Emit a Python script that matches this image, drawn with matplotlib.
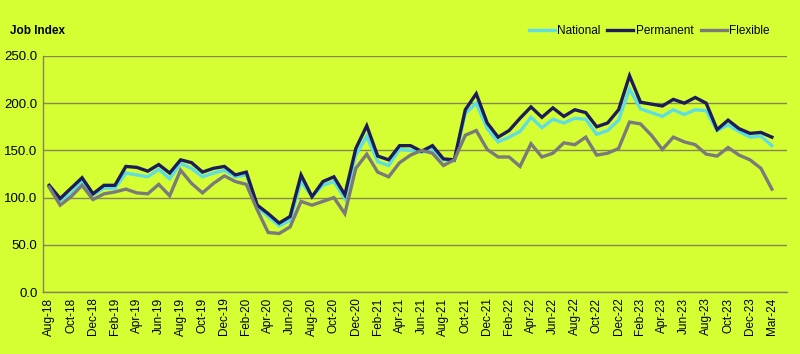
import numpy as np
import pandas as pd
import matplotlib
matplotlib.use("Agg")
from matplotlib import pyplot as plt

plt.rcParams['font.family'] = ['Liberation Sans', 'DejaVu Sans']

# DATA (monthly job index, Aug-18 .. Jan-24, then Mar-24)
months = [d.strftime("%b-%y") for d in pd.date_range("2018-08-01", "2024-01-01", freq="MS")]
months.append("Mar-24")

national = [111, 97, 104, 118, 103, 110, 110, 126, 124, 122, 130, 120,
            136, 131, 122, 126, 129, 122, 124, 90, 80, 70, 76, 117,
            101, 113, 117, 99, 145, 165, 138, 134, 151, 150, 148, 151,
            140, 139, 189, 200, 173, 159, 164, 170, 185, 174, 183, 179,
            184, 183, 167, 171, 182, 215, 194, 190, 186, 193, 188, 193,
            192, 171, 177, 170, 164, 165, 155]
permanent = [113, 99, 110, 121, 104, 113, 113, 133, 132, 128, 135, 126,
             140, 137, 127, 131, 133, 124, 127, 92, 83, 73, 80, 124,
             101, 117, 122, 103, 152, 176, 144, 140, 155, 155, 149, 155,
             141, 140, 193, 210, 179, 164, 171, 184, 196, 185, 195, 186,
             193, 190, 175, 179, 193, 229, 201, 199, 197, 204, 200, 206,
             200, 172, 182, 173, 168, 169, 164]
flexible = [111, 92, 101, 113, 98, 104, 106, 109, 105, 104, 114, 102,
            129, 115, 105, 115, 123, 117, 114, 87, 63, 62, 69, 96,
            92, 96, 100, 83, 131, 146, 127, 122, 137, 145, 150, 147,
            134, 140, 166, 171, 151, 143, 143, 133, 157, 143, 147, 158,
            156, 164, 145, 147, 152, 180, 178, 166, 151, 164, 159, 156,
            146, 144, 153, 145, 140, 131, 109]

x = np.arange(len(months))

fig = plt.figure(figsize=(8, 3.54), dpi=100, facecolor="#d6ff33")
ax = fig.add_axes([0.054, 0.175, 0.93, 0.667])
ax.set_facecolor("#d6ff33")

ax.plot(x, national, color="#5fdde0", lw=2.4, label="National", solid_joinstyle="miter")
ax.plot(x, permanent, color="#1c1c5a", lw=2.4, label="Permanent", solid_joinstyle="miter")
ax.plot(x, flexible, color="#7a7a7a", lw=2.4, label="Flexible", solid_joinstyle="miter")

ax.set_ylim(0, 250)
ax.set_yticks(np.arange(0, 251, 50))
ax.set_yticklabels(["%.1f" % v for v in np.arange(0, 251, 50)], fontsize=9.5)
ax.set_xlim(-0.55, 67.4)
ticks = list(range(0, len(months), 2))
ax.set_xticks(ticks)
ax.set_xticklabels([months[i] for i in ticks], rotation=90, fontsize=8.5)
ax.tick_params(length=0, pad=4)
ax.grid(axis="y", color="#85855a", lw=1)
ax.set_axisbelow(True)
for s in ["top", "right"]:
    ax.spines[s].set_visible(False)
for s in ["left", "bottom"]:
    ax.spines[s].set_color("#85855a")
    ax.spines[s].set_linewidth(1)

fig.text(0.012, 0.912, "Job Index", fontsize=8.5, fontweight="bold", va="center")
fig.legend(loc="center right", bbox_to_anchor=(0.975, 0.912), ncol=3, frameon=False,
           fontsize=8.5, handlelength=2.2, handletextpad=0.2, columnspacing=0.6)

plt.savefig("out.png", dpi=100, facecolor=fig.get_facecolor())
